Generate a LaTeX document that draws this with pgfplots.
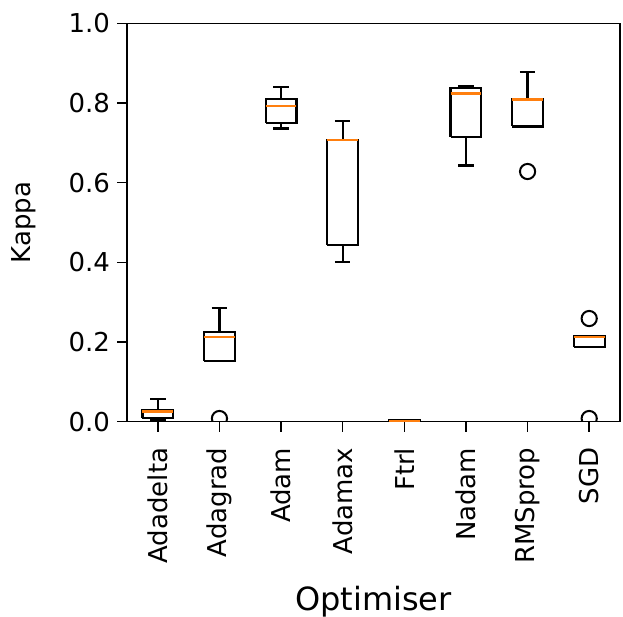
\documentclass[border=0pt]{standalone}
\usepackage{pgfplots}
\pgfplotsset{compat=1.18}
\usepackage{fontspec}
\setmainfont{DejaVu Sans}
\definecolor{mplorange}{HTML}{FF7F0E}

\pgfplotsset{
  boxline/.style={black, solid, line width=1.1pt, no markers, line join=miter, forget plot},
  medline/.style={mplorange, solid, line width=1.2pt, no markers, forget plot},
}

% box: position, lower whisker, lower quartile, median, upper quartile, upper whisker
\newcommand\mplbox[6]{%
  \pgfmathsetmacro\bxl{#1-0.25}\pgfmathsetmacro\bxr{#1+0.25}%
  \pgfmathsetmacro\cpl{#1-0.125}\pgfmathsetmacro\cpr{#1+0.125}%
  \edef\tmp{\noexpand\addplot[boxline] coordinates {
    (\bxl,#3) (\bxr,#3) (\bxr,#5) (\bxl,#5) (\bxl,#3) (\bxl,nan)
    (#1,#3) (#1,#2) (#1,nan) (\cpl,#2) (\cpr,#2) (\cpr,nan)
    (#1,#5) (#1,#6) (#1,nan) (\cpl,#6) (\cpr,#6)};}\tmp
  \edef\tmp{\noexpand\addplot[medline] coordinates {(\bxl,#4) (\bxr,#4)};}\tmp
}

\begin{document}
\begin{tikzpicture}
\begin{axis}[
  name=ax,
  scale only axis,
  width=246.5pt, height=199.2pt,
  xmin=0.5, xmax=8.5, ymin=0, ymax=1,
  unbounded coords=jump,
  clip mode=individual,
  clip marker paths=true,
  xtick={1,2,3,4,5,6,7,8},
  xticklabels={Adadelta,Adagrad,Adam,Adamax,Ftrl,Nadam,RMSprop,SGD},
  ytick={0,0.2,0.4,0.6,0.8,1},
  yticklabels={0.0,0.2,0.4,0.6,0.8,1.0},
  tick pos=left,
  tick align=outside,
  major tick length=5pt,
  tick style={black, line width=0.75pt},
  axis line style={black, line width=0.75pt},
  tick label style={font=\fontsize{13}{15}\selectfont},
  xticklabel style={rotate=90, anchor=east},
  xticklabel shift=4.5pt,
  xlabel={Optimiser},
  ylabel={Kappa},
  xlabel style={font=\fontsize{16}{19}\selectfont, at={(axis description cs:0.5,-0.452)}, anchor=center},
  ylabel style={font=\fontsize{13}{16}\selectfont, at={(axis description cs:-0.21,0.5)}, anchor=center},
]
\mplbox{1}{0.003}{0.009}{0.026}{0.030}{0.057}% Adadelta
\mplbox{2}{0.153}{0.153}{0.212}{0.226}{0.285}% Adagrad
\mplbox{3}{0.736}{0.749}{0.793}{0.809}{0.841}% Adam
\mplbox{4}{0.400}{0.443}{0.707}{0.708}{0.755}% Adamax
\mplbox{5}{0.000}{0.000}{0.002}{0.003}{0.003}% Ftrl
\mplbox{6}{0.643}{0.715}{0.824}{0.837}{0.843}% Nadam
\mplbox{7}{0.741}{0.741}{0.809}{0.810}{0.877}% RMSprop
\mplbox{8}{0.187}{0.187}{0.212}{0.214}{0.214}% SGD
% outliers
\addplot[only marks, black, mark=o, mark size=3.8pt, mark options={solid, line width=1pt}]
  coordinates {(2,0.008) (7,0.628) (8,0.259) (8,0.008)};
\end{axis}
\pgfresetboundingbox
\path[use as bounding box] ([xshift=-63.5pt,yshift=-97.15pt]ax.south west)
  rectangle ([xshift=1.5pt,yshift=11.65pt]ax.north east);
\end{tikzpicture}
\end{document}
